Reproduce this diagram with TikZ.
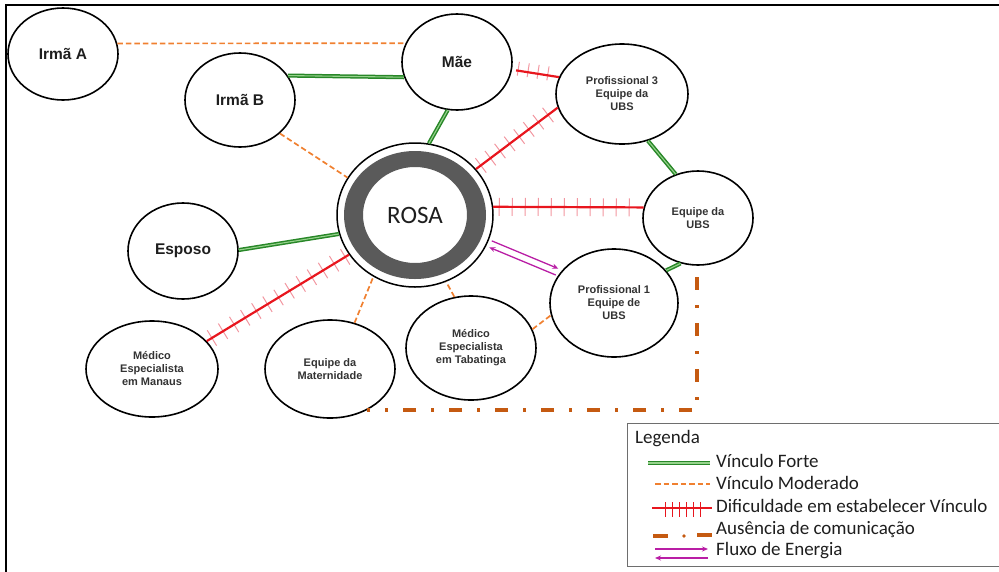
\documentclass[tikz,border=0pt]{standalone}
\usepackage{fontspec}
\setmainfont{Liberation Sans}
\newfontfamily\calib{Carlito}
\usetikzlibrary{shapes.geometric,decorations.markings,arrows.meta}
\definecolor{fgreen}{RGB}{40,135,40}
\definecolor{fgreenl}{RGB}{150,210,140}
\definecolor{morange}{RGB}{240,128,48}
\definecolor{dred}{RGB}{232,22,30}
\definecolor{dpink}{RGB}{242,150,160}
\definecolor{abrown}{RGB}{197,90,17}
\definecolor{fmag}{RGB}{185,30,165}
\definecolor{rgray}{RGB}{90,90,90}
\definecolor{lgray}{RGB}{110,110,110}
\definecolor{txt}{RGB}{30,30,30}
\begin{document}
\begin{tikzpicture}[x=1pt,y=-1pt,
  pers/.style={ellipse, draw=black, line width=1.6pt, fill=white, inner sep=0pt,
    font=\bfseries\fontsize{15.5}{18}\selectfont, text=txt},
  small/.style={pers, font=\bfseries\fontsize{11}{13}\selectfont, align=center, text=black!80},
  forte/.style={draw=fgreen, line width=1.5pt, double=fgreenl, double distance=1.1pt},
  moderado/.style={draw=morange, line width=1.7pt, dash pattern=on 5.5pt off 3pt},
  dific/.style={draw=dred, line width=2.2pt, preaction={decorate},
    decoration={markings, mark=between positions 6pt and -4pt step #1 with
      {\draw[dpink, line width=1pt] (0pt,-9pt) -- (0pt,9pt);}}},
  dific/.default=13pt,
  ausencia/.style={draw=abrown, line width=3.7pt, dash pattern=on 13pt off 15pt on 3pt off 15pt},
  fluxo/.style={draw=fmag, line width=1.3pt, -{Stealth[length=6pt,width=5pt]}},
  legtxt/.style={anchor=west, inner sep=0pt, text=txt, font=\calib\fontsize{19}{22}\selectfont}
]
\useasboundingbox (0,0) rectangle (999,571);
% frame
\draw[line width=2.6pt, line cap=rect] (6,575) -- (6,5) -- (1005,5);

% nodes
\node[pers, minimum width=110pt, minimum height=92pt] (irmaA) at (63,54) {Irmã A};
\node[pers, minimum width=110pt, minimum height=94pt] (irmaB) at (240,100) {Irmã B};
\node[pers, minimum width=110pt, minimum height=96pt] (mae) at (457,62) {Mãe};
\node[small, minimum width=132pt, minimum height=100pt] (prof3) at (622,94) {Profissional 3\\Equipe da\\UBS};
\node[small, minimum width=110pt, minimum height=94pt] (equbs) at (698,218) {Equipe da\\UBS};
\node[small, minimum width=128pt, minimum height=108pt] (prof1) at (614,303) {Profissional 1\\Equipe de\\UBS};
\node[small, minimum width=130pt, minimum height=104pt] (tabat) at (471,348) {Médico\\Especialista\\em Tabatinga};
\node[small, minimum width=130pt, minimum height=98pt] (mater) at (330,369) {Equipe da\\Maternidade};
\node[small, minimum width=132pt, minimum height=96pt] (manaus) at (152,369) {Médico\\Especialista\\em Manaus};
\node[pers, minimum width=110pt, minimum height=96pt] (esposo) at (183,251) {Esposo};
\node[ellipse, draw=black, line width=1.5pt, fill=white, inner sep=0pt,
  minimum width=156pt, minimum height=144pt, text=txt, font=\calib\fontsize{25}{30}\selectfont,
  path picture={\fill[rgray, even odd rule] (path picture bounding box.center)
     ellipse [x radius=71pt, y radius=64pt]
     (path picture bounding box.center) ellipse [x radius=52pt, y radius=48pt];}]
  (rosa) at (415,215) {ROSA};

% connectors
\draw[moderado] (irmaA.11) -- (mae.160);
\draw[forte] (irmaB.27) -- (mae.196);
\draw[forte] (rosa.79) -- (mae.259);
\draw[moderado] (irmaB.320) -- (rosa.151);
\draw[dific=10pt, shorten <=4pt] (mae.352) -- (prof3.165);
\draw[dific=12pt] (rosa.37) -- (prof3.192);
\draw[dific=13pt] (rosa.6) -- (equbs.169);
\draw[forte] (prof3.299) -- (equbs.117);
\draw[forte] (equbs.249) -- (prof1.32);
\draw[fluxo, shorten >=3pt, shorten <=3pt] ([shift={(1.3,-3.2)}]rosa.339) -- ([shift={(1.3,-3.2)}]prof1.151);
\draw[fluxo, shorten >=3pt, shorten <=3pt] ([shift={(-1.3,3.2)}]prof1.151) -- ([shift={(-1.3,3.2)}]rosa.339);
\draw[forte] (esposo.1) -- (rosa.194);
\draw[dific=13pt] (manaus.27) -- (rosa.211);
\draw[moderado] (mater.62) -- (rosa.236);
\draw[moderado] (tabat.108) -- (rosa.295);
\draw[moderado] (tabat.17) -- (prof1.191);

% absence of communication
\coordinate (aus1) at (697,277);
\coordinate (aus2) at (697,410);
\coordinate (aus3) at (367,410);
\draw[ausencia] (aus1) -- (aus2) -- (aus3);

% legend
\draw[draw=lgray, line width=1pt] (627,423) rectangle (1010,566);
\node[legtxt] (lgtitle) at (635,439) {Legenda};
\node[legtxt] (lg1) at (716,461) {Vínculo Forte};
\node[legtxt] (lg2) at (716,483) {Vínculo Moderado};
\node[legtxt] (lg3) at (716,506) {Dificuldade em estabelecer Vínculo};
\node[legtxt] (lg4) at (716,529) {Ausência de comunicação};
\node[legtxt] (lg5) at (716,551) {Fluxo de Energia};
\draw[forte] (648,463) -- (710,463);
\draw[moderado] (655,484) -- (710,484);
\draw[draw=dred, line width=2.2pt] (652,508) -- (712,508);
\foreach \tx in {665,672,679,686,693,700}{\draw[dred, line width=1pt] (\tx,502) -- (\tx,517);}
\draw[draw=abrown, line width=3.7pt] (653,536) -- (668,536);
\fill[abrown] (684,536) circle (1.8pt);
\draw[draw=abrown, line width=3.7pt] (697,535) -- (712,535);
\draw[fluxo] (655,549) -- (708,549);
\draw[fluxo] (708,558) -- (655,558);
\end{tikzpicture}
\end{document}
